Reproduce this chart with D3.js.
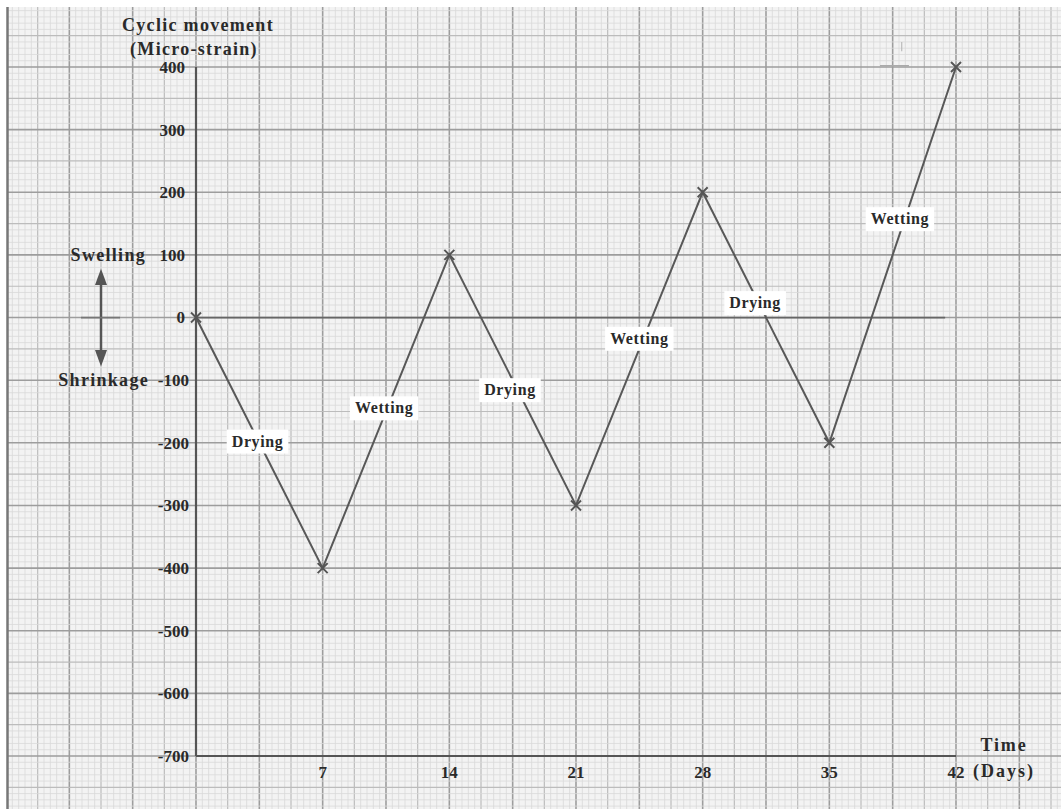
<!DOCTYPE html>
<html><head><meta charset="utf-8">
<script src="https://cdn.jsdelivr.net/npm/d3@7"></script>
<style>
html,body{margin:0;padding:0;background:#fff;}
svg{display:block;}
text{font-family:"Liberation Serif","DejaVu Serif",serif;font-weight:bold;fill:#2a2a2a;}
</style></head>
<body>
<script>
// ---- data ----
const days = [0, 7, 14, 21, 28, 35, 42];
const strain = [0, -400, 100, -300, 200, -200, 400];
const xTicks = [7, 14, 21, 28, 35, 42];
const yTicks = [400, 300, 200, 100, 0, -100, -200, -300, -400, -500, -600, -700];
const phaseLabels = ["Drying", "Wetting", "Drying", "Wetting", "Drying", "Wetting"];
const phaseDay = [3.4, 10.4, 17.35, 24.5, 30.9, 38.9];
const phaseVal = [-197, -144, -115, -33, 24, 158];

const W = 1061, H = 809;
const svg = d3.select("body").append("svg").attr("width", W).attr("height", H);

const x = d3.scaleLinear().domain([0, 42]).range([196, 956]);
const y = d3.scaleLinear().domain([-700, 400]).range([756, 67]);

// paper background
svg.append("rect").attr("x", 0).attr("y", 0).attr("width", W).attr("height", H).attr("fill", "#fff");
svg.append("rect").attr("x", 8).attr("y", 7).attr("width", W - 8).attr("height", H - 7).attr("fill", "#f3f3f3");

const grid = svg.append("g");
// vertical grid lines: minor every 0.35 day, medium every 1.75, major every 3.5
d3.range(-31, 141).forEach(k => {
  const xp = x(k * 0.35);
  if (xp < 8 || xp > W) return;
  const major = k % 10 === 0, med = k % 5 === 0;
  grid.append("line").attr("x1", xp).attr("x2", xp).attr("y1", 7).attr("y2", H)
    .attr("stroke", major ? "#9d9d9d" : med ? "#bcbcbc" : "#d9d9d9")
    .attr("stroke-width", major ? 1.6 : med ? 1.2 : 0.8);
});
// horizontal grid lines: minor every 10, medium 50, major 100
d3.range(-82, 52).forEach(k => {
  const yp = y(k * 10);
  if (yp < 7 || yp > H) return;
  const major = k % 10 === 0, med = k % 5 === 0;
  grid.append("line").attr("y1", yp).attr("y2", yp).attr("x1", 8).attr("x2", W)
    .attr("stroke", major ? "#9d9d9d" : med ? "#bcbcbc" : "#d9d9d9")
    .attr("stroke-width", major ? 1.6 : med ? 1.2 : 0.8);
});
// paper edge
svg.append("line").attr("x1", 7.5).attr("x2", 7.5).attr("y1", 7).attr("y2", H)
  .attr("stroke", "#777").attr("stroke-width", 2.5);

// axes
const ax = "#555";
svg.append("line").attr("x1", x(0)).attr("x2", x(0)).attr("y1", y(400)).attr("y2", y(-700))
  .attr("stroke", ax).attr("stroke-width", 2.2);
svg.append("line").attr("x1", x(0)).attr("x2", x(42)).attr("y1", y(-700)).attr("y2", y(-700))
  .attr("stroke", ax).attr("stroke-width", 2.2);
// zero line
svg.append("line").attr("x1", x(0)).attr("x2", x(41.4)).attr("y1", y(0)).attr("y2", y(0))
  .attr("stroke", "#666").attr("stroke-width", 1.8);

// y tick labels
svg.append("g").selectAll("text").data(yTicks).join("text")
  .attr("x", d => x(0) - (d >= 0 ? 11 : 7)).attr("y", d => y(d)).attr("dy", "0.35em")
  .attr("text-anchor", "end").attr("font-size", 17).text(d => d);
// x tick labels
svg.append("g").selectAll("text").data(xTicks).join("text")
  .attr("x", d => x(d)).attr("y", y(-700) + 16).attr("dy", "0.35em")
  .attr("text-anchor", "middle").attr("font-size", 17).text(d => d);

// axis titles
function T(xp, yp, s, anchor) {
  return svg.append("text").attr("x", xp).attr("y", yp).attr("text-anchor", anchor || "middle")
    .attr("font-size", 18).attr("letter-spacing", 1.3).text(s);
}
T(198, 31, "Cyclic movement");
T(194, 55, "(Micro-strain)");
T(1004, 751, "Time").attr("letter-spacing", 1.8);
T(1004, 777, "(Days)").attr("letter-spacing", 2);

// Swelling / Shrinkage indicator
T(146, y(100), "Swelling", "end").attr("dy", "0.35em");
T(149, y(-100), "Shrinkage", "end").attr("dy", "0.35em");
const ac = "#555";
svg.append("line").attr("x1", 101).attr("x2", 101).attr("y1", y(60)).attr("y2", y(-60)).attr("stroke", ac).attr("stroke-width", 2.5);
svg.append("line").attr("x1", 81).attr("x2", 120).attr("y1", y(0)).attr("y2", y(0)).attr("stroke", "#777").attr("stroke-width", 1.8);
svg.append("path").attr("d", `M101,${y(78)} L95,${y(52)} L107,${y(52)} Z`).attr("fill", ac);
svg.append("path").attr("d", `M101,${y(-78)} L95,${y(-52)} L107,${y(-52)} Z`).attr("fill", ac);

// faint pencil marks near the last point
svg.append("line").attr("x1", x(37.8)).attr("x2", x(39.4)).attr("y1", y(402)).attr("y2", y(402))
  .attr("stroke", "#aaa").attr("stroke-width", 1.5);
svg.append("line").attr("x1", x(39.0)).attr("x2", x(39.0)).attr("y1", y(440)).attr("y2", y(425))
  .attr("stroke", "#bbb").attr("stroke-width", 1.2);

// data line
const pts = days.map((d, i) => [d, strain[i]]);
svg.append("path").datum(pts)
  .attr("d", d3.line().x(d => x(d[0])).y(d => y(d[1])))
  .attr("fill", "none").attr("stroke", "#585858").attr("stroke-width", 2);
// markers
svg.append("g").selectAll("path").data(pts).join("path")
  .attr("d", d => { const cx = x(d[0]), cy = y(d[1]); return `M${cx-5},${cy-5}L${cx+5},${cy+5}M${cx-5},${cy+5}L${cx+5},${cy-5}`; })
  .attr("stroke", "#555").attr("stroke-width", 2).attr("fill", "none");

// phase labels with white boxes
const lg = svg.append("g").selectAll("g").data(phaseLabels).join("g")
  .attr("transform", (d, i) => `translate(${x(phaseDay[i])},${y(phaseVal[i])})`);
lg.append("text").attr("text-anchor", "middle").attr("dy", "0.35em").attr("font-size", 16)
  .attr("letter-spacing", 0.6).text(d => d);
lg.each(function () {
  const g = d3.select(this), b = g.select("text").node().getBBox();
  g.insert("rect", "text").attr("x", b.x - 5).attr("y", b.y - 3).attr("width", b.width + 10).attr("height", b.height + 6).attr("fill", "#fff");
});
</script>
</body></html>
